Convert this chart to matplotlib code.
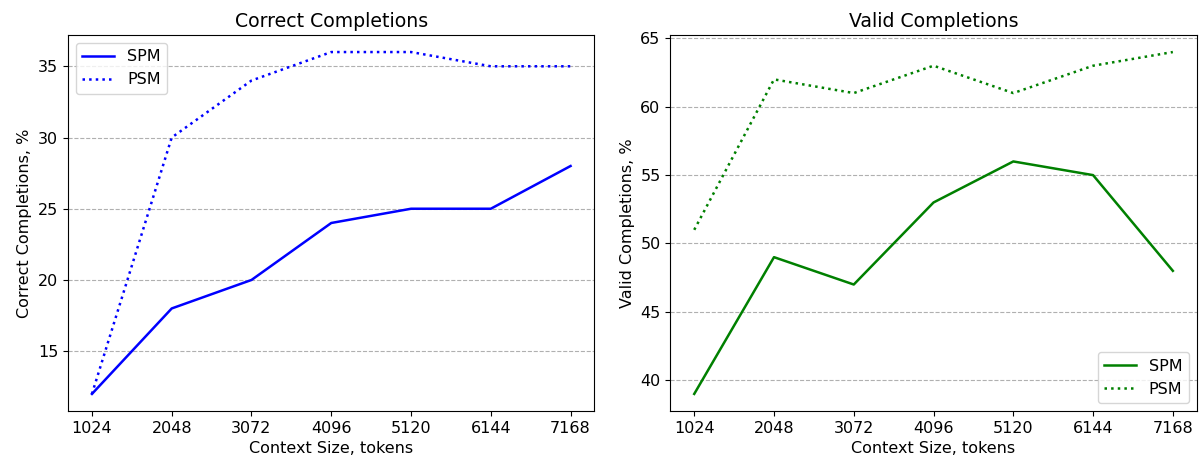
import matplotlib
matplotlib.use("Agg")
import matplotlib.pyplot as plt

context_sizes = [1024, 2048, 3072, 4096, 5120, 6144, 7168]

correct_spm = [12, 18, 20, 24, 25, 25, 28]
correct_psm = [12, 30, 34, 36, 36, 35, 35]

valid_spm = [39, 49, 47, 53, 56, 55, 48]
valid_psm = [51, 62, 61, 63, 61, 63, 64]

plt.rcParams["font.size"] = 11.5

fig, (ax1, ax2) = plt.subplots(1, 2, figsize=(12.04, 4.66), dpi=100)
fig.subplots_adjust(left=0.0565, right=0.994, top=0.925, bottom=0.118, wspace=0.144)

ax1.plot(context_sizes, correct_spm, color="blue", linestyle="-", linewidth=1.8, label="SPM")
ax1.plot(context_sizes, correct_psm, color="blue", linestyle=":", linewidth=1.8, label="PSM")
ax1.set_title("Correct Completions", fontsize=13.6)
ax1.set_xlabel("Context Size, tokens")
ax1.set_ylabel("Correct Completions, %")
ax1.set_xticks(context_sizes)
ax1.grid(axis="y", linestyle="--", color="#b0b0b0")
ax1.legend(loc="upper left")

ax2.plot(context_sizes, valid_spm, color="green", linestyle="-", linewidth=1.8, label="SPM")
ax2.plot(context_sizes, valid_psm, color="green", linestyle=":", linewidth=1.8, label="PSM")
ax2.set_title("Valid Completions", fontsize=13.6)
ax2.set_xlabel("Context Size, tokens")
ax2.set_ylabel("Valid Completions, %")
ax2.set_xticks(context_sizes)
ax2.grid(axis="y", linestyle="--", color="#b0b0b0")
ax2.legend(loc="lower right")

fig.savefig("out.png", dpi=100)
